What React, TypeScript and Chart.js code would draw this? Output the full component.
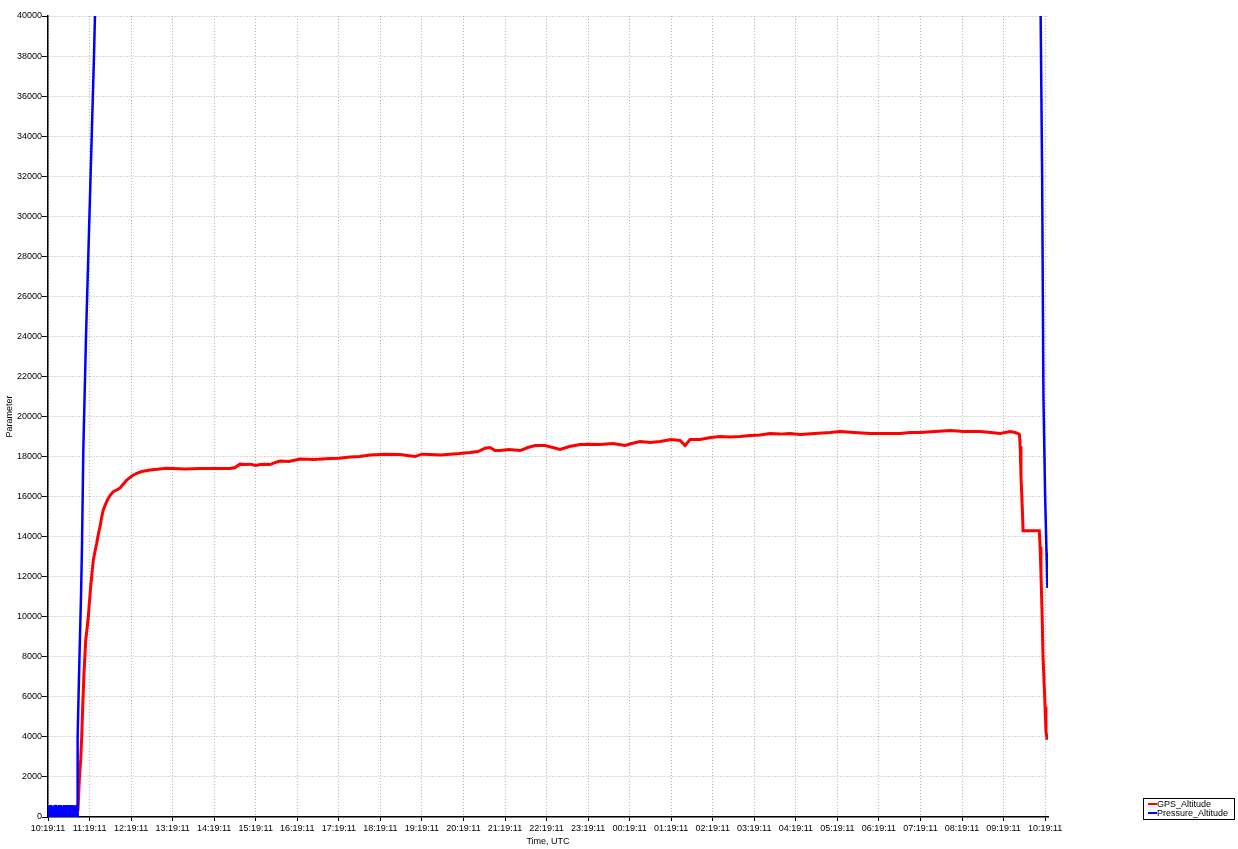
import React, { useEffect, useRef } from "react";
import { Chart, registerables } from "chart.js";

Chart.register(...registerables);

// Hours since 10:19:11 UTC
const gpsHours = [
  0.72, 0.729, 0.753, 0.787, 0.811, 0.835, 0.867, 0.908, 0.94, 0.97, 1.0, 1.028, 1.06, 1.091, 1.13, 1.172, 1.21, 1.252,
  1.29, 1.331, 1.39, 1.452, 1.51, 1.572, 1.65, 1.733, 1.81, 1.895, 1.97, 2.053, 2.15, 2.256, 2.455, 2.857, 3.3,
  3.659, 4.0, 4.381, 4.5, 4.622, 4.75, 4.863, 5.0, 5.104, 5.22, 5.344, 5.46, 5.585, 5.8, 6.067, 6.4, 6.789, 7.0,
  7.27, 7.5, 7.752, 8.1, 8.474, 8.65, 8.835, 9.0, 9.196, 9.45, 9.677, 9.9, 10.159, 10.35, 10.52, 10.641, 10.76,
  10.881, 11.1, 11.363, 11.55, 11.724, 11.965, 12.15, 12.326, 12.55, 12.807, 13.05, 13.289, 13.6, 13.891, 14.05,
  14.252, 14.5, 14.733, 15.0, 15.215, 15.335, 15.455, 15.696, 15.95, 16.177, 16.42, 16.659, 16.9, 17.14, 17.38,
  17.622, 17.85, 18.103, 18.45, 18.825, 19.066, 19.4, 19.788, 20.15, 20.51, 20.75, 20.992, 21.35, 21.714, 22.05,
  22.436, 22.7, 22.918, 23.159, 23.28, 23.351, 23.383, 23.4, 23.42, 23.45, 23.47, 23.6, 23.75, 23.86, 23.88, 23.9,
  23.93, 23.95, 23.98, 24.0, 24.02, 24.05, 24.06,
];
const gpsAltitude = [
  300, 700, 1850, 2850, 4000, 5500, 7200, 8840, 9400, 10000, 10800, 11500, 12200, 12840, 13250, 13670, 14100, 14500,
  14950, 15330, 15650, 15920, 16100, 16250, 16330, 16420, 16620, 16830, 16950, 17080, 17170, 17250, 17330, 17420,
  17380, 17400, 17400, 17400, 17450, 17620, 17600, 17620, 17550, 17600, 17620, 17600, 17700, 17780, 17750, 17880,
  17850, 17900, 17920, 17980, 18000, 18080, 18120, 18100, 18050, 18000, 18120, 18100, 18080, 18120, 18150, 18200,
  18250, 18420, 18450, 18300, 18300, 18350, 18300, 18450, 18550, 18550, 18450, 18350, 18500, 18600, 18620, 18600,
  18650, 18550, 18650, 18750, 18700, 18750, 18850, 18800, 18550, 18850, 18850, 18950, 19000, 18980, 19000, 19050,
  19080, 19150, 19120, 19150, 19100, 19150, 19200, 19250, 19200, 19150, 19150, 19150, 19200, 19200, 19250, 19300,
  19250, 19250, 19200, 19150, 19250, 19200, 19150, 19100, 18500, 17000, 15500, 14300, 14300, 14300, 14300, 13500,
  12200, 10000, 8000, 6500, 5500, 4300, 3850, 3850,
];

const pressureHours = [
  0.0, 0.01, 0.02, 0.03, 0.04, 0.05, 0.06, 0.07, 0.08, 0.09, 0.1, 0.11, 0.12, 0.13, 0.14, 0.15, 0.16, 0.17, 0.18,
  0.19, 0.2, 0.21, 0.22, 0.23, 0.24, 0.25, 0.26, 0.27, 0.28, 0.29, 0.3, 0.31, 0.32, 0.33, 0.34, 0.35, 0.36, 0.37,
  0.38, 0.39, 0.4, 0.41, 0.42, 0.43, 0.44, 0.45, 0.46, 0.47, 0.48, 0.49, 0.5, 0.51, 0.52, 0.53, 0.54, 0.55, 0.56,
  0.57, 0.58, 0.59, 0.6, 0.61, 0.62, 0.63, 0.64, 0.65, 0.66, 0.67, 0.68, 0.69, 0.7, 0.705, 0.722, 0.746, 0.77,
  0.794, 0.818, 0.85, 0.915, 0.963, 1.011, 1.059, 1.107, 1.136, 12.0, 23.88, 23.893, 23.929, 23.96, 24.001, 24.037,
  24.056, 24.068,
];
const pressureAltitude: (number | null)[] = [
  0, 560, 30, 520, 10, 600, 40, 540, 0, 580, 20, 500, 60, 570, 10, 590, 30, 530, 0, 610, 20, 550, 40, 580, 10, 520,
  50, 600, 0, 560, 30, 590, 20, 540, 10, 580, 40, 510, 0, 600, 30, 550, 10, 590, 50, 530, 0, 570, 20, 600, 40, 520,
  10, 580, 30, 560, 0, 600, 20, 540, 50, 590, 10, 520, 30, 580, 0, 560, 40, 600, 20, 600, 4000, 7000, 9000, 11000,
  13500, 18300, 24000, 27500, 31000, 34500, 38000, 40500, null, 40800, 40000, 32000, 21000, 16000, 13000, 11500,
  13200,
];

const hourTicks = [0, 1, 2, 3, 4, 5, 6, 7, 8, 9, 10, 11, 12, 13, 14, 15, 16, 17, 18, 19, 20, 21, 22, 23, 24];
const startHour = 10;
const tickSuffix = ":19:11";

const seriesNames = ["GPS_Altitude", "Pressure_Altitude"];
const seriesColors = ["#ff0000", "#0000ff"];

const FONT = "'Liberation Sans', Arial, Helvetica, sans-serif";

const legendPlugin = {
  id: "boxLegend",
  afterDraw(chart: any) {
    const ctx = chart.ctx;
    ctx.save();
    ctx.strokeStyle = "#000";
    ctx.lineWidth = 1;
    ctx.strokeRect(1143.5, 798.5, 91, 21);
    ctx.font = `9px ${FONT}`;
    ctx.textBaseline = "middle";
    ctx.fillStyle = "#000";
    const ys = [804, 813];
    seriesNames.forEach((n, i) => {
      ctx.strokeStyle = seriesColors[i];
      ctx.lineWidth = 2;
      ctx.beginPath();
      ctx.moveTo(1148, ys[i]);
      ctx.lineTo(1157, ys[i]);
      ctx.stroke();
      ctx.fillText(n, 1157, ys[i] + 0.5);
    });
    ctx.restore();
  },
};

export default function App() {
  const ref = useRef<HTMLCanvasElement | null>(null);
  useEffect(() => {
    if (!ref.current) return;
    const gridColor = "#b4b4b4";
    const chart = new Chart(ref.current, {
      type: "line",
      data: {
        datasets: [
          {
            label: seriesNames[1],
            data: pressureHours.map((h, i) => ({ x: h, y: pressureAltitude[i] })),
            borderColor: seriesColors[1],
            backgroundColor: seriesColors[1],
            borderWidth: 2.5,
            pointRadius: 0,
            tension: 0,
            spanGaps: false,
          },
          {
            label: seriesNames[0],
            data: gpsHours.map((h, i) => ({ x: h, y: gpsAltitude[i] })),
            borderColor: seriesColors[0],
            backgroundColor: seriesColors[0],
            borderWidth: 3,
            pointRadius: 0,
            tension: 0,
          },
        ],
      },
      options: {
        responsive: false,
        animation: false,
        layout: { padding: { top: 16, right: 190, left: 0, bottom: 0 } },
        plugins: { legend: { display: false }, tooltip: { enabled: false } },
        scales: {
          x: {
            type: "linear",
            min: 0,
            max: 24.07,
            afterBuildTicks: (scale: any) => {
              scale.ticks = hourTicks.map((v) => ({ value: v }));
            },
            afterFit: (scale: any) => {
              scale.height = 32;
            },
            ticks: {
              autoSkip: false,
              maxRotation: 0,
              padding: 2,
              color: "#000",
              font: { family: FONT, size: 9 },
              callback: (v: any) => {
                const h = (startHour + Number(v)) % 24;
                return String(h).padStart(2, "0") + tickSuffix;
              },
            },
            grid: {
              color: gridColor,
              lineWidth: 1,
              tickLength: 4,
              tickColor: "#000",
              tickBorderDash: [],
            },
            border: { display: true, color: "#000", width: 1.5, dash: [1, 2] },
            title: {
              display: true,
              text: "Time, UTC",
              color: "#000",
              font: { family: FONT, size: 9 },
              padding: { top: 0, bottom: 2 },
            },
          },
          y: {
            type: "linear",
            min: 0,
            max: 40000,
            afterFit: (scale: any) => {
              scale.width = 48;
            },
            ticks: {
              stepSize: 2000,
              padding: 0,
              color: "#000",
              font: { family: FONT, size: 9 },
              callback: (v: any) => String(v),
            },
            grid: {
              color: gridColor,
              lineWidth: 1,
              tickLength: 6,
              tickColor: "#000",
              tickBorderDash: [],
            },
            border: { display: true, color: "#000", width: 1.5, dash: [1, 2] },
            title: {
              display: true,
              text: "Parameter",
              color: "#000",
              font: { family: FONT, size: 9 },
            },
          },
        },
      },
      plugins: [legendPlugin],
    } as any);
    return () => chart.destroy();
  }, []);
  return (
    <div style={{ position: "absolute", left: 0, top: 0, width: 1238, height: 849, background: "#fff" }}>
      <canvas ref={ref} width={1238} height={849} style={{ display: "block" }} />
    </div>
  );
}
